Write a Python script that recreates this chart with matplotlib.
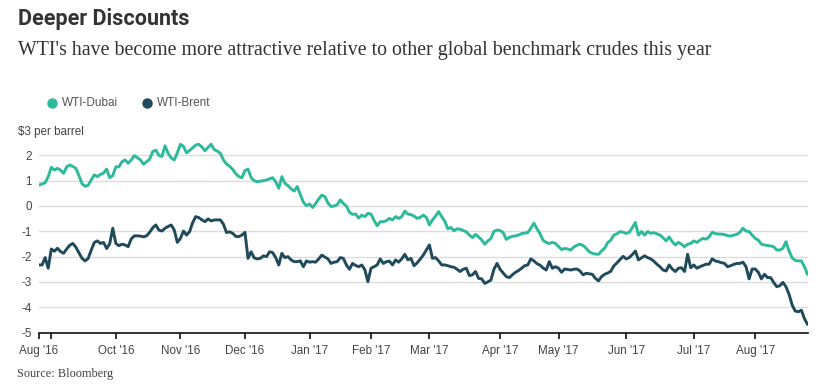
import numpy as np
import pandas as pd
import matplotlib
matplotlib.use("Agg")
import matplotlib.pyplot as plt
from matplotlib.lines import Line2D

# ---------------- data ----------------
title = "Deeper Discounts"
subtitle = "WTI's have become more attractive relative to other global benchmark crudes this year"
source = "Source: Bloomberg"
unit_label = "$3 per barrel"
series_names = ["WTI-Dubai", "WTI-Brent"]
series_colors = ["#2dba9b", "#1f4a5c"]

start_date = "2016-08-26"
market_holidays = ["2016-09-05", "2016-11-24", "2016-12-26", "2017-01-02", "2017-01-16",
                   "2017-02-20", "2017-04-14", "2017-05-29", "2017-07-04"]

tick_months = ["2016-08", "2016-09", "2016-10", "2016-11", "2016-12", "2017-01", "2017-02",
               "2017-03", "2017-04", "2017-05", "2017-06", "2017-07", "2017-08"]
tick_labels = ["Aug '16", "", "Oct '16", "Nov '16", "Dec '16", "Jan '17", "Feb '17",
               "Mar '17", "Apr '17", "May '17", "Jun '17", "Jul '17", "Aug '17"]

y_ticks = [-5, -4, -3, -2, -1, 0, 1, 2]

wti_dubai = [
    0.83, 0.87, 0.92, 1.16, 1.53, 1.42, 1.49, 1.42, 1.29, 1.55,
    1.62, 1.56, 1.49, 1.20, 0.88, 0.78, 0.82, 1.03, 1.23, 1.16,
    1.25, 1.30, 1.46, 1.12, 1.20, 1.55, 1.55, 1.75, 1.82, 1.69,
    1.82, 1.99, 1.91, 1.82, 1.65, 1.75, 1.85, 2.15, 2.21, 2.00,
    1.96, 2.38, 2.08, 1.90, 1.82, 2.10, 2.44, 2.36, 2.10, 2.20,
    2.30, 2.41, 2.44, 2.33, 2.18, 2.32, 2.44, 2.23, 2.17, 2.08,
    1.82, 1.66, 1.57, 1.45, 1.28, 1.16, 1.12, 1.40, 1.46, 1.12,
    1.00, 0.96, 0.98, 1.00, 1.03, 1.07, 1.12, 0.96, 0.70, 1.16,
    0.90, 0.80, 0.68, 0.59, 0.77, 0.45, 0.15, 0.01, 0.08, -0.06,
    0.10, 0.28, 0.43, 0.37, 0.12, -0.02, 0.00, 0.05, 0.24, 0.10,
    0.00, -0.25, -0.33, -0.32, -0.48, -0.36, -0.42, -0.29, -0.32, -0.57,
    -0.78, -0.62, -0.62, -0.58, -0.49, -0.55, -0.42, -0.49, -0.42, -0.20,
    -0.32, -0.34, -0.40, -0.49, -0.45, -0.36, -0.45, -0.75, -0.55, -0.40,
    -0.22, -0.42, -0.60, -0.90, -0.85, -0.98, -0.90, -0.92, -0.97, -1.02,
    -1.15, -1.25, -1.12, -1.22, -1.34, -1.51, -1.38, -1.28, -1.00, -0.95,
    -0.97, -1.05, -1.32, -1.24, -1.20, -1.18, -1.15, -1.09, -1.07, -1.05,
    -0.88, -0.68, -0.90, -1.10, -1.36, -1.44, -1.48, -1.44, -1.48, -1.60,
    -1.72, -1.68, -1.70, -1.74, -1.62, -1.55, -1.51, -1.56, -1.67, -1.81,
    -1.87, -1.90, -1.91, -1.78, -1.67, -1.45, -1.35, -1.15, -1.10, -1.01,
    -1.04, -1.08, -1.04, -0.86, -0.65, -1.15, -1.01, -1.15, -1.01, -1.08,
    -1.05, -1.10, -1.15, -1.25, -1.38, -1.22, -1.41, -1.54, -1.44, -1.51,
    -1.61, -1.51, -1.48, -1.38, -1.44, -1.35, -1.28, -1.31, -1.22, -1.04,
    -1.09, -1.11, -1.11, -1.13, -1.17, -1.19, -1.15, -1.12, -1.04, -0.88,
    -0.99, -1.01, -1.15, -1.28, -1.35, -1.51, -1.54, -1.56, -1.58, -1.61,
    -1.74, -1.74, -1.67, -1.41, -1.78, -2.05, -2.15, -2.17, -2.17, -2.40,
    -2.70,
]

wti_brent = [
    -2.33, -2.33, -2.04, -2.46, -1.70, -1.79, -1.67, -1.80, -1.87, -1.70,
    -1.55, -1.48, -1.63, -1.85, -2.07, -2.17, -2.07, -1.74, -1.44, -1.38,
    -1.48, -1.44, -1.68, -1.50, -0.88, -1.48, -1.57, -1.51, -1.54, -1.61,
    -1.30, -1.18, -1.18, -1.19, -1.22, -1.18, -1.04, -0.86, -0.75, -0.95,
    -0.99, -0.88, -0.81, -0.75, -0.95, -1.44, -1.28, -0.99, -1.15, -1.01,
    -0.65, -0.42, -0.46, -0.55, -0.62, -0.51, -0.59, -0.55, -0.55, -0.55,
    -0.72, -1.05, -1.02, -1.08, -1.20, -1.21, -1.15, -1.04, -2.07, -1.81,
    -2.05, -2.09, -2.07, -1.97, -2.00, -1.81, -1.84, -2.04, -2.33, -1.87,
    -2.04, -2.00, -2.13, -2.20, -2.20, -2.17, -2.40, -2.17, -2.22, -2.20,
    -2.22, -2.09, -1.94, -2.02, -2.09, -2.27, -2.22, -2.20, -2.04, -2.07,
    -2.33, -2.50, -2.27, -2.35, -2.40, -2.33, -2.52, -2.99, -2.46, -2.40,
    -2.33, -2.09, -2.27, -2.20, -2.18, -2.33, -2.13, -2.22, -2.09, -1.91,
    -2.13, -2.07, -2.36, -2.25, -2.10, -1.94, -1.74, -1.54, -2.07, -2.04,
    -2.17, -2.33, -2.33, -2.36, -2.40, -2.42, -2.50, -2.59, -2.50, -2.46,
    -2.75, -2.72, -2.59, -2.86, -2.88, -3.06, -3.00, -2.93, -2.50, -2.27,
    -2.50, -2.65, -2.79, -2.83, -2.72, -2.62, -2.55, -2.46, -2.36, -2.33,
    -2.09, -2.17, -2.28, -2.34, -2.45, -2.53, -2.20, -2.46, -2.40, -2.46,
    -2.62, -2.49, -2.51, -2.53, -2.50, -2.49, -2.57, -2.72, -2.66, -2.68,
    -2.70, -2.86, -2.96, -2.79, -2.70, -2.65, -2.58, -2.37, -2.25, -2.12,
    -1.99, -2.09, -2.04, -1.92, -1.78, -2.13, -2.05, -1.97, -2.04, -2.09,
    -2.18, -2.30, -2.40, -2.53, -2.57, -2.33, -2.49, -2.59, -2.46, -2.44,
    -2.59, -1.91, -2.44, -2.33, -2.46, -2.40, -2.35, -2.30, -2.30, -2.09,
    -2.17, -2.20, -2.24, -2.27, -2.40, -2.36, -2.31, -2.27, -2.27, -2.22,
    -2.40, -2.88, -2.49, -2.49, -2.62, -2.88, -2.70, -2.83, -2.83, -3.02,
    -3.19, -3.15, -3.02, -3.19, -3.49, -3.91, -4.15, -4.18, -4.12, -4.45,
    -4.68,
]

# trading-day calendar (chart is plotted on a trading-session axis)
bday = pd.offsets.CustomBusinessDay(holidays=market_holidays)
dates = pd.date_range(start=start_date, periods=len(wti_dubai), freq=bday)
session = np.arange(len(dates))
month_key = dates.strftime("%Y-%m")
tick_pos = [int(np.argmax(month_key == m)) for m in tick_months]

# ---------------- figure ----------------
W, H = 823, 389
fig = plt.figure(figsize=(W / 100, H / 100), dpi=100)
fig.patch.set_facecolor("white")

def fx(px):
    return px / W

def fy(py):
    return 1 - py / H

ax_left, ax_right, ax_top, ax_bottom = 39, 807.5, 130.1, 332.5
ax = fig.add_axes([fx(ax_left), fy(ax_bottom), fx(ax_right - ax_left), (ax_bottom - ax_top) / H])
ax.set_xlim(0, len(dates) - 1)
ax.set_ylim(-5, 3)

for v in y_ticks[1:]:
    ax.axhline(v, color="#dcdcdc", lw=1.0, zorder=1)

for vals, color in zip([wti_dubai, wti_brent], series_colors):
    ax.plot(session, vals, color=color, lw=2.1, solid_joinstyle="round",
            solid_capstyle="round", zorder=3)

for s in ["top", "right", "left"]:
    ax.spines[s].set_visible(False)
ax.spines["bottom"].set_color("#111111")
ax.spines["bottom"].set_linewidth(1.2)

sans = "Liberation Sans"
ax.set_yticks(y_ticks)
ax.set_yticklabels([str(v) for v in y_ticks], fontfamily=sans, fontsize=8.4, color="#444444")
ax.tick_params(axis="y", length=0, pad=5)

ax.set_xticks(tick_pos)
ax.set_xticklabels(tick_labels, fontfamily=sans, fontsize=8.4, color="#444444")
ax.tick_params(axis="x", direction="out", length=4, width=1.2, color="#111111", pad=5)

# unit label at top of the y scale
fig.text(fx(18), fy(131.5), unit_label, fontfamily=sans, fontsize=8.4, color="#444444",
         ha="left", va="center")

# legend
legend_items = [(51.7, 61.5), (146.5, 156.5)]
for (mx, tx), name, color in zip(legend_items, series_names, series_colors):
    fig.add_artist(Line2D([fx(mx)], [fy(102.7)], marker="o", markersize=6.5,
                          color=color, transform=fig.transFigure, lw=0))
    fig.text(fx(tx), fy(102.7), name, fontfamily=sans, fontsize=8.5, color="#555555",
             ha="left", va="center")

# title / subtitle / source
t_title = fig.text(fx(18), fy(25), title, fontfamily="Roboto", fontweight="bold",
                   fontsize=14, color="#333333", ha="left", va="baseline")
t_sub = fig.text(fx(18), fy(55), subtitle, fontfamily="Liberation Serif",
                 fontsize=13, color="#333333", ha="left", va="baseline")
t_src = fig.text(fx(17), fy(376.5), source, fontfamily="Liberation Serif",
                 fontsize=8, color="#444444", ha="left", va="baseline")

renderer = fig.canvas.get_renderer()
for t, target in [(t_title, 172), (t_sub, 689), (t_src, 95)]:
    w = t.get_window_extent(renderer).width
    t.set_fontsize(t.get_fontsize() * target / w)

fig.savefig("out.png", dpi=100, facecolor="white")
